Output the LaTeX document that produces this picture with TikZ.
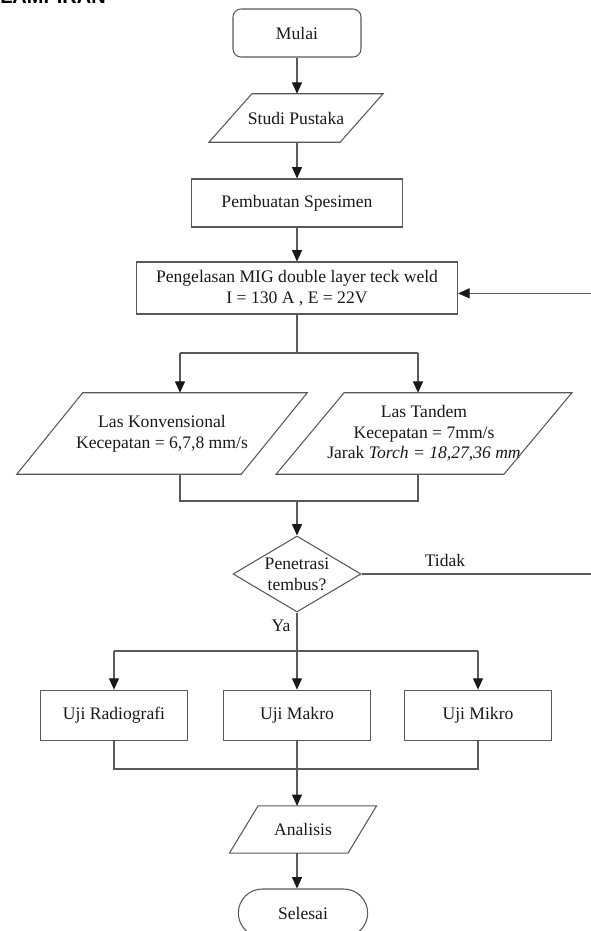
\documentclass[tikz,border=0pt]{standalone}
\usepackage{fontspec}
\setmainfont{Liberation Serif}
\newfontfamily\headfont{Liberation Sans}
\usetikzlibrary{shapes.geometric,arrows.meta}

\begin{document}
\begin{tikzpicture}[x=0.75pt,y=-0.75pt,
    every node/.style={font=\fontsize{13.2}{15.5}\selectfont, text=black!90, align=center},
    line/.style={draw=black!65, line width=0.8pt},
    arr/.style={line, -{Triangle[width=7.5pt,length=8.5pt,color=black!90]}},
    proc/.style={line, rectangle, inner sep=2pt},
    io/.style={rectangle, inner sep=2pt},
    term/.style={line, rectangle, rounded corners=6pt, inner sep=2pt}]
  \useasboundingbox (0,0) rectangle (590,931);
  % heading of the page, cut off at the top
  \node[anchor=base west, inner sep=0pt, text=black, align=left, font=\headfont\bfseries\fontsize{15}{15}\selectfont] (head) at (0,4) {LAMPIRAN};

  \node[term, minimum width=96pt, minimum height=36pt] (mulai) at (297,33) {Mulai};
  \node[io, minimum width=98pt, minimum height=36pt] (studi) at (296,118) {Studi Pustaka};
  \node[proc, minimum width=158pt, minimum height=36pt] (buat) at (297,203) {Pembuatan Spesimen};
  \node[proc, minimum width=241pt, minimum height=39pt] (mig) at (297,288) {Pengelasan MIG double layer teck weld\\I = 130 A , E = 22V};
  \node[io, minimum width=168pt, minimum height=60.75pt] (konv) at (162,433.5) {Las Konvensional\\Kecepatan = 6,7,8 mm/s};
  \node[io, minimum width=170.5pt, minimum height=60.75pt] (tandem) at (424,433.5) {Las Tandem\\Kecepatan = 7mm/s\\Jarak \textit{Torch = 18,27,36 mm}};
  \node[line, diamond, aspect=1.7, inner sep=0pt, minimum width=96pt, minimum height=57pt] (cek) at (297,574) {Penetrasi\\tembus?};
  \node[proc, minimum width=110pt, minimum height=38pt] (radio) at (114,715.5) {Uji Radiografi};
  \node[proc, minimum width=110pt, minimum height=38pt] (makro) at (297,715.5) {Uji Makro};
  \node[proc, minimum width=110pt, minimum height=38pt] (mikro) at (478,715.5) {Uji Mikro};
  \node[io, minimum width=88.5pt, minimum height=35pt] (anal) at (303,829.5) {Analisis};
  \node[term, rounded corners=18pt, minimum width=97pt, minimum height=36pt] (selesai) at (303,913) {Selesai};
  \node (tidak) at (445,560) {Tidak};
  \node (ya) at (281,626) {Ya};

  % slanted input/output boxes
  \foreach \n/\s in {studi/16.1pt, konv/24.75pt, tandem/25.5pt, anal/10.7pt}
    \draw[line] ([xshift=\s]\n.north west) -- ([xshift=\s]\n.north east)
      -- ([xshift=-\s]\n.south east) -- ([xshift=-\s]\n.south west) -- cycle;

  \coordinate (kl) at (180,353);
  \coordinate (kr) at (418,353);
  \coordinate (jl) at (180,501);
  \coordinate (jr) at (418,501);
  \coordinate (back) at (598,573);
  \coordinate (s2l) at (114,651);
  \coordinate (s2r) at (478,651);
  \coordinate (j2l) at (114,769);
  \coordinate (j2r) at (478,769);

  \draw[arr] (mulai) -- (mulai |- studi.north);
  \draw[arr] (mulai |- studi.south) -- (buat);
  \draw[arr] (buat) -- (mig);
  \draw[line] (mig.south) -- (mig.south |- kl);
  \draw[line] (kl) -- (kr);
  \draw[arr] (kl) -- (kl |- konv.north);
  \draw[arr] (kr) -- (kr |- tandem.north);
  \draw[line] (jl |- konv.south) -- (jl) -- (jr) -- (jr |- tandem.south);
  \draw[arr] (cek.north |- jl) -- (cek.north);
  \draw[arr] (cek.east) -- (cek.east -| back) |- ([yshift=-4pt]mig.east);
  \draw[line] (cek.south) -- (cek.south |- s2l);
  \draw[line] (s2l) -- (s2r);
  \draw[arr] (s2l) -- (radio);
  \draw[arr] (cek.south |- s2l) -- (makro);
  \draw[arr] (s2r) -- (mikro);
  \draw[line] (radio) -- (j2l) -- (j2r) -- (mikro);
  \draw[line] (makro) -- (makro |- j2l);
  \draw[arr] (makro |- j2l) -- (makro |- anal.north);
  \draw[arr] (makro |- anal.south) -- (makro |- selesai.north);
\end{tikzpicture}
\end{document}
